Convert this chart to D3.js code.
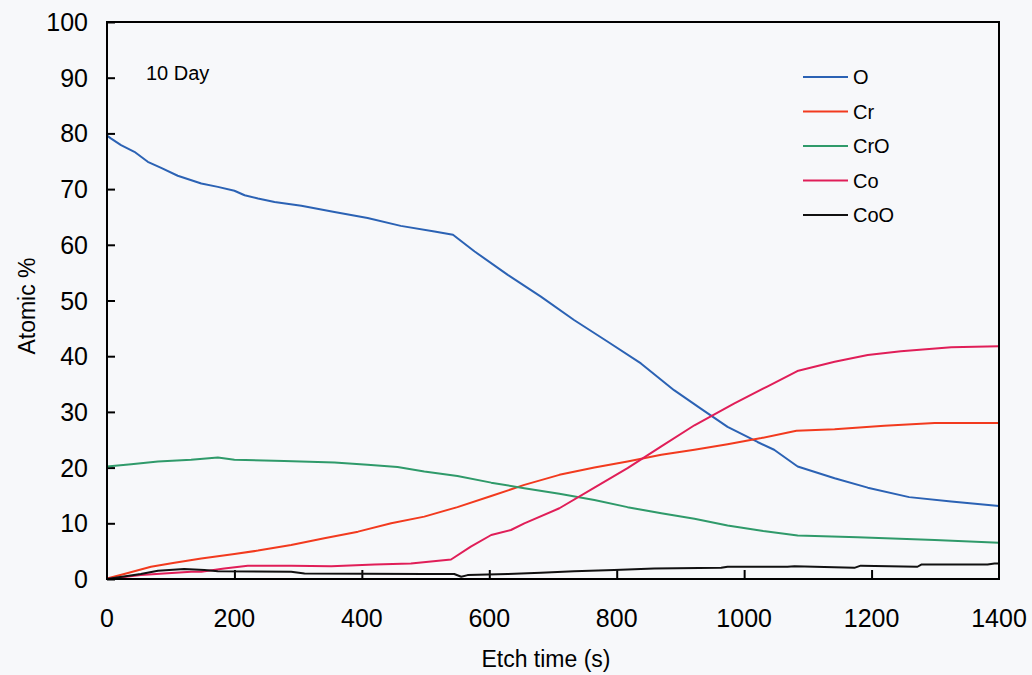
<!DOCTYPE html>
<html>
<head>
<meta charset="utf-8">
<script src="https://cdn.jsdelivr.net/npm/d3@7"></script>
<style>
  body { margin: 0; background: #f7f8fa; }
  svg { display: block; font-family: "Liberation Sans", Arial, sans-serif; }
</style>
</head>
<body>
<svg id="chart" width="1032" height="675"></svg>
<script>
// ---- data (etch time s, atomic %) ----
var oData = [[0,79.6],[6,79.1],[22,77.9],[43,76.7],[64,74.9],[85,73.8],[111,72.4],[148,71.0],[174,70.4],[200,69.7],
  [216,68.9],[237,68.3],[263,67.7],[305,67.0],[357,65.9],[409,64.8],[461,63.4],[514,62.4],[543,61.8],[577,58.8],
  [629,54.6],[681,50.7],[733,46.5],[786,42.6],[838,38.7],[890,33.9],[932,30.6],[974,27.3],[1021,24.6],[1047,23.2],
  [1084,20.2],[1142,18.1],[1194,16.4],[1259,14.7],[1325,13.9],[1400,13.1]];
var crData = [[0,0.1],[27,0.9],[69,2.2],[106,2.9],[148,3.7],[200,4.5],[237,5.1],[289,6.1],[341,7.3],[394,8.5],
  [446,10.0],[498,11.2],[550,12.9],[603,14.9],[655,16.9],[710,18.7],[765,20.0],[817,21.1],[870,22.3],[922,23.2],
  [974,24.2],[1027,25.3],[1082,26.6],[1142,26.9],[1220,27.5],[1299,28.0],[1400,28.0]];
var croData = [[0,20.2],[38,20.6],[80,21.1],[132,21.4],[174,21.8],[200,21.4],[278,21.2],[357,20.9],[409,20.5],
  [456,20.1],[498,19.3],[550,18.5],[603,17.3],[655,16.3],[710,15.3],[765,14.2],[817,12.9],[870,11.8],[922,10.8],
  [974,9.6],[1030,8.6],[1084,7.8],[1178,7.5],[1299,7.0],[1400,6.5]];
var coData = [[0,0],[53,0.7],[132,1.3],[148,1.3],[184,1.9],[221,2.4],[289,2.4],[352,2.3],[420,2.6],[477,2.8],
  [540,3.5],[571,5.8],[603,7.9],[634,8.8],[655,10.0],[710,12.7],[765,16.4],[817,19.9],[870,23.8],[922,27.6],
  [984,31.5],[1037,34.6],[1085,37.4],[1142,39.0],[1194,40.2],[1246,40.9],[1325,41.6],[1400,41.8]];
var cooData = [[0,0],[53,0.9],[80,1.5],[121,1.8],[153,1.6],[174,1.4],[289,1.3],[310,1.0],[498,0.9],[545,0.9],
  [556,0.4],[566,0.7],[629,0.9],[681,1.1],[733,1.4],[796,1.6],[859,1.9],[964,2.0],[974,2.2],[1068,2.2],
  [1079,2.3],[1173,2.0],[1183,2.4],[1272,2.2],[1278,2.6],[1382,2.6],[1393,2.8],[1400,2.8]];

var seriesNames = ["O", "Cr", "CrO", "Co", "CoO"];
var seriesData = [oData, crData, croData, coData, cooData];
var seriesColors = ["#2b62b4", "#f23a1e", "#2f9a6a", "#e01e58", "#111111"];

var xTicks = [0, 200, 400, 600, 800, 1000, 1200, 1400];
var yTicks = [0, 10, 20, 30, 40, 50, 60, 70, 80, 90, 100];

(function(){
  // ---- layout ----
  var pLeft = 107, pRight = 999, pTop = 22, pBottom = 579;

  var svg = d3.select("#chart");

  var x = d3.scaleLinear().domain([0, 1400]).range([pLeft, pRight]);
  var y = d3.scaleLinear().domain([0, 100]).range([pBottom, pTop]);

  // y axis: ticks point inward
  var yAxis = d3.axisRight(y).tickValues(yTicks).tickSize(8).tickFormat("");
  svg.append("g").attr("transform", "translate(" + pLeft + ",0)").call(yAxis)
    .call(function(g){ g.select(".domain").remove(); g.selectAll("line").attr("stroke", "#000").attr("stroke-width", 2); });

  svg.append("g").selectAll("text").data(yTicks).enter().append("text")
    .attr("x", pLeft - 19).attr("y", function(d){ return y(d) + 9; })
    .attr("text-anchor", "end").attr("font-size", 25).attr("fill", "#000")
    .text(function(d){ return d; });

  // x axis: ticks point up
  var xAxis = d3.axisTop(x).tickValues(xTicks.slice(1, -1)).tickSize(9).tickFormat("");
  svg.append("g").attr("transform", "translate(0," + pBottom + ")").call(xAxis)
    .call(function(g){ g.select(".domain").remove(); g.selectAll("line").attr("stroke", "#000").attr("stroke-width", 2); });

  svg.append("g").selectAll("text").data(xTicks).enter().append("text")
    .attr("x", function(d){ return x(d); }).attr("y", 627)
    .attr("text-anchor", "middle").attr("font-size", 25).attr("fill", "#000")
    .text(function(d){ return d; });

  // lines
  var line = d3.line().x(function(d){ return x(d[0]); }).y(function(d){ return y(d[1]); });

  svg.append("g").selectAll("path").data(seriesData).enter().append("path")
    .attr("d", line)
    .attr("fill", "none")
    .attr("stroke", function(d, i){ return seriesColors[i]; })
    .attr("stroke-width", 2)
    .attr("stroke-linejoin", "round");

  // frame
  svg.append("rect").attr("x", pLeft).attr("y", pTop)
    .attr("width", pRight - pLeft).attr("height", pBottom - pTop)
    .attr("fill", "none").attr("stroke", "#000").attr("stroke-width", 2);

  // legend
  var legend = svg.append("g").selectAll("g").data(seriesNames).enter().append("g")
    .attr("transform", function(d, i){ return "translate(803," + (77 + i * 34.5) + ")"; });
  legend.append("line").attr("x1", 0).attr("x2", 45).attr("y1", 0).attr("y2", 0)
    .attr("stroke", function(d, i){ return seriesColors[i]; }).attr("stroke-width", 2);
  legend.append("text").attr("x", 50).attr("y", 7).attr("font-size", 20).attr("fill", "#000")
    .text(function(d){ return d; });

  // annotation
  svg.append("text").attr("x", 146).attr("y", 80).attr("font-size", 20).attr("fill", "#000").text("10 Day");

  // axis titles
  svg.append("text").attr("x", 546).attr("y", 667).attr("text-anchor", "middle")
    .attr("font-size", 23).attr("fill", "#000").text("Etch time (s)");
  svg.append("text").attr("transform", "translate(35,306) rotate(-90)").attr("text-anchor", "middle")
    .attr("font-size", 23).attr("fill", "#000").text("Atomic %");
})();
</script>
</body>
</html>
